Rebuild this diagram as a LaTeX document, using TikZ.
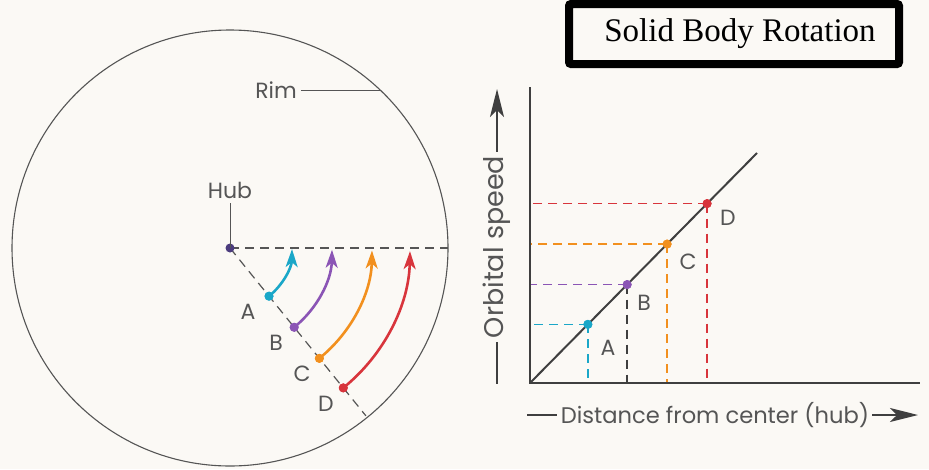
\documentclass[tikz,border=0pt]{standalone}
\usepackage{fontspec}
\setmainfont{Liberation Serif}
\newfontfamily\labelfont{Poppins}
\usetikzlibrary{arrows.meta,calc}
\definecolor{bg}{HTML}{FBF9F5}
\definecolor{ca}{HTML}{1AA7C8}
\definecolor{cb}{HTML}{8B55B5}
\definecolor{cc}{HTML}{F2901E}
\definecolor{cd}{HTML}{D8353C}
\definecolor{hubc}{HTML}{4B3C7E}
\definecolor{inkgray}{HTML}{555555}
\definecolor{axisgray}{HTML}{3F3F3F}
\tikzset{
  lbl/.style={font=\labelfont\fontsize{22}{24}\selectfont, text=inkgray, inner sep=0pt},
  dotmark/.style={circle, inner sep=0pt, minimum size=9pt},
  thinline/.style={draw=inkgray, line width=1.1pt},
  graydash/.style={draw=inkgray, line width=1.2pt, dash pattern=on 9pt off 6pt},
  coldash/.style={line width=1.6pt, dash pattern=on 9pt off 6pt},
  rotarrow/.style={line width=2.6pt, -{Stealth[length=18pt, width=12pt, inset=5pt]}},
  axisline/.style={draw=axisgray, line width=1.4pt},
  bigarrow/.style={draw=axisgray, line width=1.6pt, -{Stealth[length=28pt, width=14pt, inset=7pt]}},
  titlebox/.style={draw=black, line width=8pt, rounded corners=2pt, fill=bg,
    minimum width=330pt, minimum height=60pt, inner sep=0pt,
    font=\fontsize{33}{36}\selectfont}
}
\begin{document}
\begin{tikzpicture}[x=1pt,y=-1pt]
\useasboundingbox[fill=bg] (0,0) rectangle (929,469);

% ---------- left: disk ----------
\coordinate (O) at (230,248);
\draw[thinline] (O) circle[radius=218];
\node[lbl] (rimlbl) at (276,90) {Rim};
\coordinate (rimpt) at (380,90);
\draw[draw=inkgray, line width=0.8pt] ([xshift=4pt]rimlbl.east) -- (rimpt);

\coordinate (east) at (448,248);
\coordinate (diagend) at ($(O)+(51:216)$);
\draw[graydash] (O) -- (east);
\draw[graydash] (O) -- (diagend);

\node[lbl] (hublbl) at (230,190) {Hub};
\node[dotmark, fill=hubc] (hub) at (O) {};
\draw[draw=inkgray, line width=0.9pt] ([yshift=-5pt]hublbl.south) -- (hub.center);

\node[dotmark, fill=ca] (pA) at ($(O)+(51:62)$) {};
\node[dotmark, fill=cb] (pB) at ($(O)+(51:102)$) {};
\node[dotmark, fill=cc] (pC) at ($(O)+(51:142)$) {};
\node[dotmark, fill=cd] (pD) at ($(O)+(51:180)$) {};

\draw[rotarrow, draw=ca] (pA.center) arc[start angle=51, end angle=1, radius=62];
\draw[rotarrow, draw=cb] (pB.center) arc[start angle=51, end angle=1, radius=102];
\draw[rotarrow, draw=cc] (pC.center) arc[start angle=51, end angle=1, radius=142];
\draw[rotarrow, draw=cd] (pD.center) arc[start angle=51, end angle=1, radius=180];
\node[dotmark, fill=ca] at (pA) {};
\node[dotmark, fill=cb] at (pB) {};
\node[dotmark, fill=cc] at (pC) {};
\node[dotmark, fill=cd] at (pD) {};

\node[lbl] (lA) at (248,312) {A};
\node[lbl] (lB) at (276,343) {B};
\node[lbl] (lC) at (302,374) {C};
\node[lbl] (lD) at (326,404) {D};

% ---------- right: graph ----------
\coordinate (org) at (530,383);
\coordinate (ytop) at (530,87);
\coordinate (xend) at (920,383);
\coordinate (lineend) at (757,153);

\node[dotmark, fill=ca] (gA) at ($(org)!0.255!(lineend)$) {};
\node[dotmark, fill=cb] (gB) at ($(org)!0.428!(lineend)$) {};
\node[dotmark, fill=cc] (gC) at ($(org)!0.604!(lineend)$) {};
\node[dotmark, fill=cd] (gD) at ($(org)!0.78!(lineend)$) {};

\draw[coldash, draw=ca] (gA.center) -- (gA.center -| org);
\draw[coldash, draw=ca] (gA.center) -- (gA.center |- org);
\draw[coldash, draw=cb] (gB.center) -- (gB.center -| org);
\draw[coldash, draw=axisgray] (gB.center) -- (gB.center |- org);
\draw[coldash, draw=cc] (gC.center) -- (gC.center -| org);
\draw[coldash, draw=cc] (gC.center) -- (gC.center |- org);
\draw[coldash, draw=cd] (gD.center) -- (gD.center -| org);
\draw[coldash, draw=cd] (gD.center) -- (gD.center |- org);

\draw[axisline] (ytop) -- (org) -- (xend);
\draw[draw=axisgray, line width=2pt] (org) -- (lineend);

\node[dotmark, fill=ca] at (gA) {};
\node[dotmark, fill=cb] at (gB) {};
\node[dotmark, fill=cc] at (gC) {};
\node[dotmark, fill=cd] at (gD) {};

\node[lbl] (gla) at (608,348) {A};
\node[lbl] (glb) at (644,303) {B};
\node[lbl] (glc) at (688,262) {C};
\node[lbl] (gld) at (728,218) {D};

% axis labels
\node[lbl, rotate=90, font=\labelfont\fontsize{27}{29}\selectfont] (ylbl) at (497,247) {Orbital speed};
\coordinate (ybarlow) at (497,384);
\coordinate (ytip) at (497,89);
\draw[axisline, line width=2pt] ([yshift=-4pt]ylbl.west) -- (ybarlow);
\draw[bigarrow, line width=2pt] ([yshift=4pt]ylbl.east) -- (ytip);

\node[lbl, font=\labelfont\fontsize{22.6}{25}\selectfont] (xlbl) at (715,415) {Distance from center (hub)};
\coordinate (xbarleft) at (527,415);
\coordinate (xtip) at (918,415);
\draw[axisline] ([xshift=-4pt]xlbl.west) -- (xbarleft);
\draw[bigarrow] ([xshift=3pt]xlbl.east) -- (xtip);

% title
\node[titlebox] (title) at (734,34) {\hspace*{12pt}Solid Body Rotation};
\end{tikzpicture}
\end{document}
